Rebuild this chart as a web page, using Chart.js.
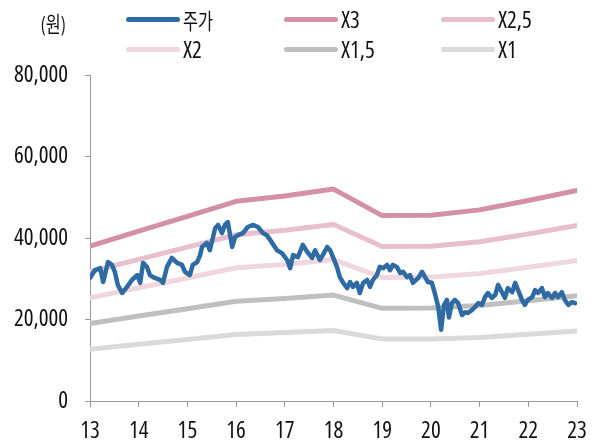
<!DOCTYPE html>
<html>
<head>
<meta charset="utf-8">
<script src="https://cdn.jsdelivr.net/npm/chart.js@4.4.0/dist/chart.umd.min.js"></script>
<style>
    body { margin: 0; background: #fff; }
    #wrap { position: relative; width: 600px; height: 444px; }
    .lg { position: absolute; height: 30px; display: flex; align-items: center; white-space: nowrap;
          font-family: 'Open Sans', 'Noto Sans CJK KR', sans-serif; font-stretch: condensed; font-size: 23px; color: #111; }
    .lg i { display: block; width: 54px; height: 5px; border-radius: 3px; margin-right: 3px; }
    .ko { display: inline-block; transform: scaleX(0.74); transform-origin: left center; font-size: 22px; }
</style>
</head>
<body>
<div id="wrap">
    <canvas id="pbrChart" width="600" height="444"></canvas>
    <div class="lg" style="left:41px; top:7px;"><span class="ko">(원)</span></div>
    <div id="legend"></div>
</div>
<script>
// band years and PBR multiples
var bandYears = [13, 14, 15, 16, 17, 18, 19, 20, 21, 22, 23];
var bandX3   = [38000, 41700, 45300, 49000, 50300, 52000, 45500, 45600, 46900, 49200, 51700];
var bandX25  = [31700, 34750, 37750, 40800, 41900, 43300, 37900, 38000, 39100, 41000, 43100];
var bandX2   = [25300, 27800, 30200, 32700, 33500, 34700, 30300, 30400, 31300, 32800, 34500];
var bandX15  = [19000, 20850, 22650, 24500, 25150, 26000, 22750, 22800, 23450, 24600, 25850];
var bandX1   = [12700, 13900, 15100, 16300, 16800, 17300, 15200, 15200, 15600, 16400, 17200];

// stock price (year as fraction)
var priceYears = [13.00, 13.10, 13.21, 13.27, 13.37, 13.45, 13.51, 13.57, 13.66, 13.76, 13.86, 13.97,
    14.03, 14.09, 14.17, 14.23, 14.33, 14.44, 14.50, 14.58, 14.68, 14.79, 14.89, 14.95,
    15.05, 15.11, 15.20, 15.26, 15.30, 15.40, 15.46, 15.57, 15.63, 15.71, 15.77, 15.83, 15.92, 15.98,
    16.04, 16.14, 16.24, 16.35, 16.45, 16.55, 16.63, 16.74, 16.84, 16.94,
    17.05, 17.11, 17.17, 17.27, 17.37, 17.46, 17.56, 17.62, 17.72, 17.78, 17.87, 17.93, 17.99,
    18.07, 18.13, 18.20, 18.28, 18.34, 18.40, 18.48, 18.54, 18.61, 18.69, 18.75, 18.81, 18.89, 18.95,
    19.02, 19.10, 19.16, 19.22, 19.30, 19.37, 19.43, 19.51, 19.57, 19.63, 19.74, 19.82, 19.88, 19.94,
    20.02, 20.08, 20.15, 20.21, 20.27, 20.33, 20.37, 20.43, 20.49, 20.56, 20.64, 20.70, 20.76, 20.84, 20.91, 20.97,
    21.05, 21.11, 21.17, 21.25, 21.32, 21.38, 21.46, 21.52, 21.58, 21.67, 21.73, 21.79, 21.87, 21.93, 21.99,
    22.08, 22.14, 22.20, 22.28, 22.34, 22.40, 22.49, 22.55, 22.61, 22.69, 22.75, 22.82, 22.90, 22.96];
var price = [30200, 32100, 32600, 29200, 34100, 33400, 31700, 28500, 26500, 28000, 29700, 30900,
    29000, 33900, 32900, 30900, 30200, 29700, 29000, 32900, 35100, 33900, 33400, 31700,
    30900, 33400, 34100, 35800, 37800, 38800, 37000, 42400, 43200, 41200, 43200, 43900, 37800, 40200,
    40700, 41200, 42700, 43200, 42700, 41200, 40700, 38800, 37000, 36300,
    34600, 32600, 35800, 35300, 38300, 36600, 35100, 37000, 34600, 35800, 37800, 37000, 35300,
    32900, 30400, 29000, 27700, 29200, 28000, 29000, 26500, 29000, 29700, 28000, 29700, 30900, 32900,
    32600, 33400, 32100, 33400, 32900, 31400, 31700, 30400, 30900, 29000, 30200, 31700, 30400, 29200,
    29000, 26500, 23100, 17500, 23600, 24800, 20500, 24000, 24800, 24000, 21100, 21800, 21600, 22300, 23100, 24000,
    23600, 25500, 26500, 25300, 26000, 28500, 26700, 25300, 27700, 26700, 29000, 27200, 24800, 23600, 24800,
    25500, 27200, 26500, 27700, 25500, 26500, 25300, 26500, 25500, 26700, 24800, 23600, 24300, 24000];

var yTicks = [0, 20000, 40000, 60000, 80000];
var xLabels = ['13', '14', '15', '16', '17', '18', '19', '20', '21', '22', '23'];

function toPoints(xs, ys) {
    return xs.map((x, i) => ({ x: x, y: ys[i] }));
}

var tickFont = { family: "'Open Sans', sans-serif", size: 23, weight: 'condensed' };

var datasets = [
    { label: '주가', data: toPoints(priceYears, price), borderColor: '#2e6ba4', borderWidth: 4.5 },
    { label: 'X3', data: toPoints(bandYears, bandX3), borderColor: '#d390a6', borderWidth: 5 },
    { label: 'X2.5', data: toPoints(bandYears, bandX25), borderColor: '#e8c0cd', borderWidth: 5 },
    { label: 'X2', data: toPoints(bandYears, bandX2), borderColor: '#f0d6de', borderWidth: 5 },
    { label: 'X1.5', data: toPoints(bandYears, bandX15), borderColor: '#bfbfbf', borderWidth: 5 },
    { label: 'X1', data: toPoints(bandYears, bandX1), borderColor: '#dadada', borderWidth: 5 }
];
datasets.forEach(d => {
    d.pointRadius = 0;
    d.fill = false;
    d.tension = 0;
    d.borderCapStyle = 'round';
    d.borderJoinStyle = 'round';
});

// legend in 3 columns
var legendPos = [[126, 4], [284, 4], [441, 4], [126, 34], [284, 34], [441, 34]];
var legendEl = document.getElementById('legend');
datasets.forEach((d, i) => {
    var div = document.createElement('div');
    div.className = 'lg';
    div.style.left = legendPos[i][0] + 'px';
    div.style.top = legendPos[i][1] + 'px';
    var text = d.label.replace('.', ',');
    var span = i == 0 ? '<span class="ko">' + text + '</span>' : '<span>' + text + '</span>';
    div.innerHTML = '<i style="background:' + d.borderColor + '"></i>' + span;
    legendEl.appendChild(div);
});

var ctx = document.getElementById('pbrChart').getContext('2d');
var pbrChart = new Chart(ctx, {
    type: 'line',
    data: { datasets: datasets },
    options: {
        responsive: false,
        animation: false,
        layout: { padding: { top: 75, right: 23, left: 0, bottom: 0 } },
        plugins: { legend: { display: false }, tooltip: { enabled: false } },
        scales: {
            x: {
                type: 'linear',
                min: 13,
                max: 23,
                afterFit: s => { s.height = 43; },
                ticks: {
                    stepSize: 1,
                    autoSkip: false,
                    maxRotation: 0,
                    padding: 11,
                    color: '#111',
                    font: tickFont,
                    callback: (v, i) => xLabels[i]
                },
                grid: { drawOnChartArea: false, drawTicks: true, tickLength: 6, color: '#9a9a9a' },
                border: { color: '#9a9a9a', width: 1 }
            },
            y: {
                min: 0,
                max: 80000,
                afterFit: s => { s.width = 90; },
                afterBuildTicks: s => { s.ticks = yTicks.map(v => ({ value: v })); },
                ticks: {
                    padding: 17,
                    color: '#111',
                    font: tickFont,
                    callback: v => v.toLocaleString('en-US')
                },
                grid: { drawOnChartArea: false, drawTicks: true, tickLength: 5, color: '#9a9a9a' },
                border: { color: '#9a9a9a', width: 1 }
            }
        }
    }
});
</script>
</body>
</html>
